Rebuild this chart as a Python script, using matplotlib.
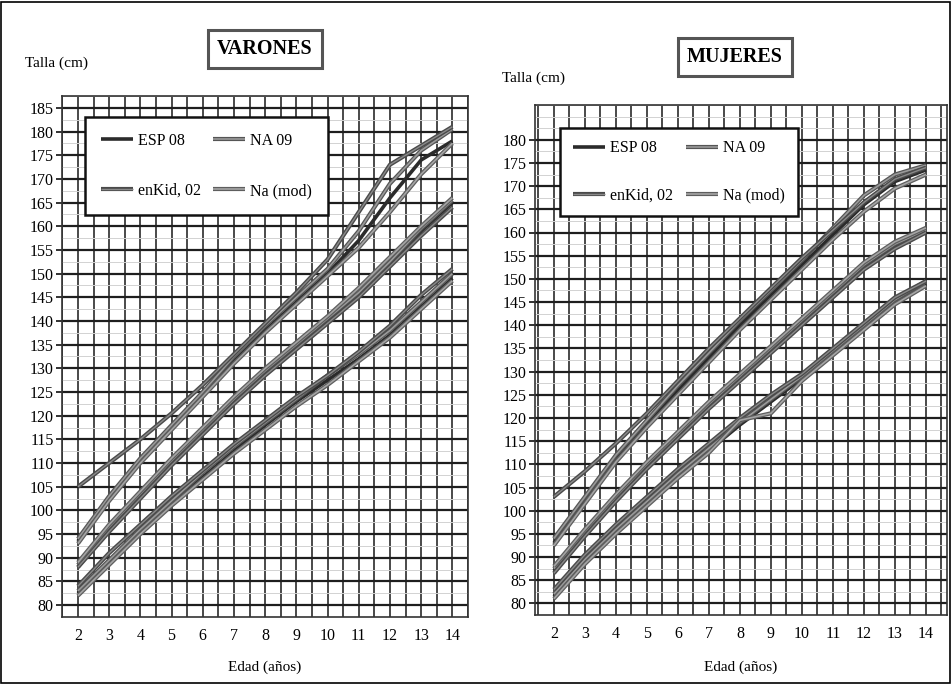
import numpy as np
import matplotlib
matplotlib.use("Agg")
import matplotlib.pyplot as plt
import matplotlib.patheffects as pe
from matplotlib.patches import Rectangle

plt.rcParams['font.family'] = ['Liberation Serif', 'DejaVu Serif']

ages = [2, 3, 4, 5, 6, 7, 8, 9, 10, 11, 12, 13, 14]
series_names = ["ESP 08", "NA 09", "enKid, 02", "Na (mod)"]

# ---- Boys (VARONES): P97, P50, P3 for each study ----
boys_esp08_p97 = [93.5, 102.5, 110.5, 117.5, 124.5, 131.5, 138, 144, 150, 157, 166, 174, 178]
boys_na09_p97 = [94, 103, 111, 118, 125, 132.5, 139, 145, 151, 159, 169, 176, 180.5]
boys_enkid_p97 = [105, 110, 115, 120.5, 126.5, 133, 139.5, 146, 153, 163, 173, 177, 181]
boys_namod_p97 = [93, 102, 110, 117, 124, 131, 137.5, 143.5, 149.5, 155.5, 163, 171, 177.5]

boys_esp08_p50 = [88, 96, 103, 110, 116.5, 123, 129, 134.5, 140, 145.5, 152, 159, 165]
boys_na09_p50 = [88.5, 96.5, 103.5, 110.5, 117, 123.5, 129.5, 135, 140.5, 146, 152.5, 159.5, 165.5]
boys_enkid_p50 = [88, 95.5, 102.5, 109.5, 116, 122.5, 128.5, 134, 139.5, 145, 151.5, 158, 164]
boys_namod_p50 = [89, 97, 104, 111, 117.5, 124, 130, 135.5, 141, 147, 153.5, 160, 166]

boys_esp08_p3 = [82.5, 89, 95.5, 101.5, 107, 112.5, 118, 123, 127.5, 132, 137, 143, 149]
boys_na09_p3 = [83, 89.5, 96, 102, 108, 113.5, 118.5, 123.5, 128.5, 133, 138, 144, 150]
boys_enkid_p3 = [84, 91, 97, 103, 108.5, 114, 119, 124, 128.5, 133.5, 139, 145.5, 151]
boys_namod_p3 = [82, 88.5, 95, 101, 106.5, 112, 117, 122, 126.5, 131.5, 136.5, 142.5, 148.5]

# ---- Girls (MUJERES) ----
girls_esp08_p97 = [93, 102, 111, 118.5, 126, 133, 140, 146.5, 153, 159.5, 166, 171, 173.5]
girls_na09_p97 = [94, 103, 112, 119.5, 127, 134, 141, 147.5, 154, 161, 168, 172.5, 174.5]
girls_enkid_p97 = [103, 108.5, 114.5, 121, 128, 135, 141.5, 148, 154.5, 160.5, 166.5, 171.5, 174]
girls_namod_p97 = [92.5, 101.5, 110.5, 118, 125, 132, 139, 145.5, 152, 158.5, 164.5, 169.5, 172.5]

girls_esp08_p50 = [87, 95, 102.5, 109.5, 116, 122.5, 128.5, 134.5, 140.5, 146.5, 152.5, 157, 160]
girls_na09_p50 = [87.5, 95.5, 103, 110, 116.5, 123, 129, 135, 141, 147, 153, 157.5, 160.5]
girls_enkid_p50 = [86.5, 94.5, 102, 109, 115.5, 122, 128, 134, 140, 146, 152, 156.5, 160]
girls_namod_p50 = [88, 96, 103.5, 110.5, 117, 123.5, 129.5, 135.5, 141.5, 147.5, 153.5, 158, 161]

girls_esp08_p3 = [81.5, 89, 95.5, 101.5, 107.5, 113, 118.5, 123.5, 128.5, 134, 139.5, 145, 149]
girls_na09_p3 = [82, 89.5, 96, 102, 108, 113.5, 119, 124, 129, 134.5, 140, 145.5, 149.5]
girls_enkid_p3 = [83, 90.5, 97, 103, 109, 114.5, 120, 125, 129.5, 135, 140.5, 146, 149.5]
girls_namod_p3 = [81, 88.5, 95, 101, 107, 112.5, 119.5, 121, 128, 133.5, 139, 144.5, 148.5]

boys = {
    "ESP 08": [boys_esp08_p97, boys_esp08_p50, boys_esp08_p3],
    "NA 09": [boys_na09_p97, boys_na09_p50, boys_na09_p3],
    "enKid, 02": [boys_enkid_p97, boys_enkid_p50, boys_enkid_p3],
    "Na (mod)": [boys_namod_p97, boys_namod_p50, boys_namod_p3],
}
girls = {
    "ESP 08": [girls_esp08_p97, girls_esp08_p50, girls_esp08_p3],
    "NA 09": [girls_na09_p97, girls_na09_p50, girls_na09_p3],
    "enKid, 02": [girls_enkid_p97, girls_enkid_p50, girls_enkid_p3],
    "Na (mod)": [girls_namod_p97, girls_namod_p50, girls_namod_p3],
}

styles = {
    "ESP 08": dict(color="#2b2b2b", lw=2.6, fx=None),
    "NA 09": dict(color="#9a9a9a", lw=1.2, fx="#555555"),
    "enKid, 02": dict(color="#8a8a8a", lw=1.0, fx="#4a4a4a"),
    "Na (mod)": dict(color="#a5a5a5", lw=1.2, fx="#5e5e5e"),
}

fig = plt.figure(figsize=(9.52, 6.84), dpi=100)
fig.patch.set_facecolor("white")

def setup(ax, xlim, ylim, yticks):
    ax.set_xlim(*xlim)
    ax.set_ylim(*ylim)
    ax.set_xticks(ages)
    ax.set_xticks(np.arange(1.5, 15.0, 0.5), minor=True)
    ax.set_yticks(yticks)
    ax.set_yticks(np.arange(77.5, 190, 2.5), minor=True)
    ax.xaxis.grid(True, which="major", color="#3a3a3a", lw=1.3)
    ax.xaxis.grid(True, which="minor", color="#3a3a3a", lw=1.3)
    ax.yaxis.grid(True, which="major", color="#1e1e1e", lw=1.6)
    ax.yaxis.grid(True, which="minor", color="#d2d2d2", lw=0.7)
    ax.set_axisbelow(True)
    ax.tick_params(axis="x", which="both", length=0, labelsize=11.5, pad=8)
    ax.tick_params(axis="y", which="major", length=4, width=1.3, color="#222", labelsize=11.5, pad=2)
    ax.tick_params(axis="y", which="minor", length=0)
    for s in ax.spines.values():
        s.set_color("#333333")
        s.set_linewidth(1.2)

def draw(ax, data):
    handles = {}
    for name in series_names:
        st = styles[name]
        for curve in data[name]:
            effects = None
            if st["fx"] is not None:
                effects = [pe.Stroke(linewidth=3.0, foreground=st["fx"]), pe.Normal()]
            (ln,) = ax.plot(ages, curve, color=st["color"], lw=st["lw"], zorder=3,
                            solid_capstyle="butt", path_effects=effects, label=name)
        handles[name] = ln
    return handles

def add_legend(ax, handles, bbox, spacing, pad):
    order = ["ESP 08", "enKid, 02", "NA 09", "Na (mod)"]
    leg = ax.legend([handles[k] for k in order], order, ncol=2, loc="center",
                    bbox_to_anchor=bbox, mode="expand", fontsize=11.5,
                    frameon=True, fancybox=False, framealpha=1, edgecolor="#111111",
                    handlelength=2.0, handletextpad=0.3, labelspacing=spacing,
                    borderpad=pad, columnspacing=1.2, borderaxespad=0)
    leg.get_frame().set_linewidth(1.8)
    leg.set_zorder(5)

# Left panel: boys
axL = fig.add_axes([62/952, 1-617/684, 406/952, 521/684])
setup(axL, (1.49, 14.38), (79, 185.6), np.arange(80, 186, 5))
hL = draw(axL, boys)
add_legend(axL, hL, (0.057, 0.768, 0.598, 0.196), 2.15, 1.0)

# Right panel: girls
axR = fig.add_axes([535/952, 1-615/684, 412/952, 510/684])
setup(axR, (1.39, 14.68), (79.5, 180.6), np.arange(80, 181, 5))
hR = draw(axR, girls)
add_legend(axR, hR, (0.061, 0.78, 0.577, 0.177), 1.95, 0.8)

# Texts
fig.text(25/952, 1-63/684, "Talla (cm)", fontsize=11, va="center", ha="left")
fig.text(502/952, 1-78/684, "Talla (cm)", fontsize=11, va="center", ha="left")
box = dict(boxstyle="square,pad=0.45", fc="white", ec="#555555", lw=2.2)
fig.text(265/952, 1-49/684, "VARONES", fontsize=14.5, fontweight="bold", ha="center", va="center", bbox=box)
fig.text(735/952, 1-57/684, "MUJERES", fontsize=14.5, fontweight="bold", ha="center", va="center", bbox=box)
fig.text(265/952, 1-667/684, "Edad (años)", fontsize=11, ha="center", va="center")
fig.text(741/952, 1-667/684, "Edad (años)", fontsize=11, ha="center", va="center")

fig.patches.append(Rectangle((0.001, 0.0015), 0.997, 0.996, transform=fig.transFigure,
                             fill=False, ec="black", lw=1.2))

fig.savefig("out.png", dpi=100)
